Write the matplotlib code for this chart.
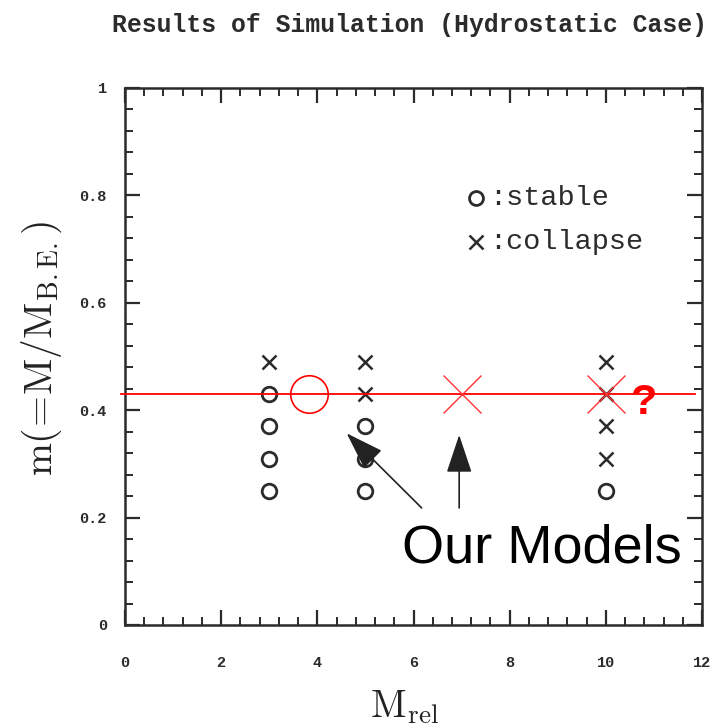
import matplotlib
matplotlib.use("Agg")
import matplotlib.pyplot as plt
from matplotlib.ticker import MultipleLocator

plt.rcParams["mathtext.fontset"] = "cm"

# Simulation grid: relative mass vs normalised mass m = M / M_BE
m_levels = [0.25, 0.31, 0.37, 0.43, 0.49]
stable_x = [3, 3, 3, 3, 5, 5, 5, 10]
stable_y = [0.25, 0.31, 0.37, 0.43, 0.25, 0.31, 0.37, 0.25]
collapse_x = [3, 5, 5, 10, 10, 10, 10]
collapse_y = [0.49, 0.43, 0.49, 0.31, 0.37, 0.43, 0.49]

# Our models (all at the same m)
m_model = 0.43
model_stable_x = [3.83]
model_collapse_x = [7.0]
model_unknown_x = [10.0]

xticks = [0, 2, 4, 6, 8, 10, 12]
yticks = [0, 0.2, 0.4, 0.6, 0.8, 1]
ytick_labels = ["0", "0.2", "0.4", "0.6", "0.8", "1"]

mono = "Liberation Mono"
ink = "#2b2b2b"

fig = plt.figure(figsize=(7.13, 7.28), dpi=100)
ax = fig.add_axes([125 / 713, 1 - 625 / 728, 577 / 713, 537 / 728])
ax.set_xlim(0, 12)
ax.set_ylim(0, 1)

# Frame and ticks
for sp in ax.spines.values():
    sp.set_linewidth(1.8)
    sp.set_color(ink)
ax.xaxis.set_major_locator(MultipleLocator(2))
ax.xaxis.set_minor_locator(MultipleLocator(0.4))
ax.yaxis.set_major_locator(MultipleLocator(0.2))
ax.yaxis.set_minor_locator(MultipleLocator(0.04))
ax.tick_params(which="both", direction="in", top=True, right=True, color=ink)
ax.tick_params(which="major", length=11, width=1.6)
ax.tick_params(which="minor", length=5.5, width=1.4)
ax.tick_params(axis="x", which="major", pad=22)
ax.tick_params(axis="y", which="major", pad=13)
ax.set_xticks(xticks)
ax.set_xticklabels([str(t) for t in xticks], fontfamily=mono, fontweight="bold",
                   fontsize=11, color=ink)
ax.set_yticks(yticks)
ax.set_yticklabels(ytick_labels, fontfamily=mono, fontweight="bold",
                   fontsize=11, color=ink)

# Simulation results
ax.plot(stable_x, stable_y, ls="none", marker="o", ms=10.5, mfc="none",
        mec=ink, mew=2.0)
ax.plot(collapse_x, collapse_y, ls="none", marker="x", ms=10.5,
        mec=ink, mew=1.8)

# Legend drawn as in the original figure
ax.plot([7.3], [0.795], marker="o", ms=10, mfc="none", mec=ink, mew=2.0)
ax.plot([7.3], [0.713], marker="x", ms=10, mec=ink, mew=1.8)
ax.text(7.57, 0.795, ":stable", fontfamily=mono, fontsize=20.5, color=ink,
        va="center", ha="left")
ax.text(7.57, 0.713, ":collapse", fontfamily=mono, fontsize=20.5, color=ink,
        va="center", ha="left")

# Model line and markers
ax.axhline(m_model, xmin=-0.007, xmax=0.988, color="#ff0000", lw=1.3,
           clip_on=False, zorder=3)
ax.plot(model_stable_x, [m_model], ls="none", marker="o", ms=27, mfc="none",
        mec="#ff0000", mew=1.2, zorder=4)
ax.plot(model_collapse_x + model_unknown_x, [m_model, m_model], ls="none",
        marker="x", ms=28, mec="#ff3333", mew=1.0, zorder=4)
ax.text(10.52, 0.393, "?", color="#ff0000", fontfamily="Liberation Sans",
        fontweight="bold", fontsize=31, ha="left", va="baseline")

# Annotation
ax.text(5.76, 0.117, "Our Models", fontfamily="Liberation Sans", fontsize=39,
        color="black", ha="left", va="baseline")
arrow_kw = dict(arrowstyle="-|>,head_length=1.2,head_width=0.4",
                mutation_scale=20, color="#222222", lw=1.2,
                shrinkA=0, shrinkB=0)
ax.annotate("", xy=(4.61, 0.357), xytext=(6.17, 0.218), arrowprops=arrow_kw)
ax.annotate("", xy=(6.95, 0.354), xytext=(6.95, 0.218), arrowprops=arrow_kw)

# Titles and axis labels
fig.text(409 / 713, 1 - 25 / 728, "Results of Simulation (Hydrostatic Case)",
         fontfamily=mono, fontweight="bold", fontsize=17.8, color=ink,
         ha="center", va="center")
fig.text(42 / 713, 1 - 348 / 728, r"$\mathrm{m(\!=\!M/M_{B.E.})}$", fontsize=28.5,
         rotation=90, ha="center", va="center", color="#222222")
fig.text(405 / 713, 1 - 707 / 728, r"$\mathrm{M_{rel}}$", fontsize=28,
         ha="center", va="center", color="#222222")

fig.savefig("out.png", dpi=100)
